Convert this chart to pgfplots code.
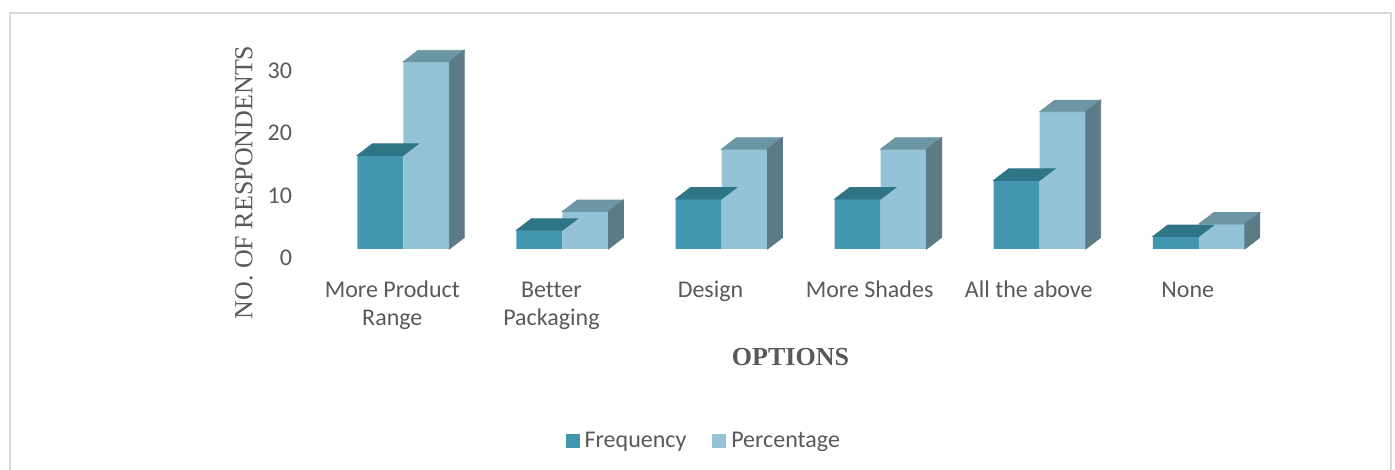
\documentclass[border=0pt]{standalone}
\usepackage{pgfplots}
\pgfplotsset{compat=1.18}
\usepackage{fontspec}
\setmainfont{Carlito}[Ligatures=CommonOff]
\newfontfamily\serifTNR{Liberation Serif}
\definecolor{freqF}{HTML}{4396B0}
\definecolor{freqT}{HTML}{307586}
\definecolor{pctF}{HTML}{93C3D5}
\definecolor{pctT}{HTML}{6D96A4}
\definecolor{pctS}{HTML}{5C7B85}
\definecolor{txt}{HTML}{595959}
\definecolor{frameC}{HTML}{D9D9D9}
\begin{document}
\begin{tikzpicture}
\path[use as bounding box] (0pt,0pt) rectangle (697.5pt,235pt);
\draw[frameC, line width=1pt] (4.75pt,-5pt) -- (4.75pt,228.5pt) -- (695.5pt,228.5pt) -- (695.5pt,-5pt);
\begin{axis}[
  at={(149.5pt,110.5pt)}, anchor=south west,
  x=79.55pt, y=3.12pt,
  xmin=-0.6556, xmax=5.6, ymin=0, ymax=35,
  clip=false,
  axis line style={draw=none},
  major tick length=0pt,
  xtick={0,1,2,3,4,5},
  xticklabels={{\strut More Product\\Range},{\strut Better\\Packaging},{\strut Design},{\strut More Shades},{\strut All the above},{\strut None}},
  ytick={0,10,20,30},
  /pgf/number format/assume math mode=true,
  tick label style={font=\fontsize{12}{14.2}\selectfont, text=txt},
  xticklabel style={align=center, anchor=north, yshift=-10.8pt, xshift=-5.5pt},
  yticklabel style={yshift=-4.4pt},
  ylabel={NO. OF RESPONDENTS},
  xlabel={OPTIONS},
  every axis y label/.style={at={(axis description cs:-0.0553,0.3045)}, rotate=90, anchor=center, font=\serifTNR\fontsize{13}{15}\selectfont, text=txt},
  every axis x label/.style={at={(axis description cs:0.4938,-0.4945)}, anchor=center, font=\serifTNR\bfseries\fontsize{13}{15}\selectfont, text=txt},
  legend style={at={(axis description cs:0.4078,-0.879)}, anchor=center, draw=none, fill=none,
    legend columns=2, font=\fontsize{12}{14.2}\selectfont, text=txt,
    /tikz/every even column/.append style={column sep=11pt}},
]
\addplot[ybar, bar width=23pt, bar shift=-11.5pt, fill=freqF, draw=none,
  legend image code/.code={\fill[freqF] (-1.5pt,-3.425pt) rectangle (5.35pt,3.425pt);\path (5.9pt,0pt);}]
  coordinates {(0,15) (1,3) (2,8) (3,8) (4,11) (5,2)};
\addlegendentry{Frequency}
\addplot[forget plot, scatter, only marks, mark=*, mark size=0pt, mark options={draw=none,fill=none},
  scatter/@pre marker code/.code={\fill[freqT] (-23pt,0pt) -- (0pt,0pt) -- (7.5pt,5.75pt) -- (-15.5pt,5.75pt) -- cycle;},
  scatter/@post marker code/.code={}]
  coordinates {(0,15) (1,3) (2,8) (3,8) (4,11) (5,2)};
\addplot[ybar, bar width=23pt, bar shift=11.5pt, fill=pctF, draw=none,
  legend image code/.code={\fill[pctF] (-1.5pt,-3.425pt) rectangle (5.35pt,3.425pt);\path (5.9pt,0pt);}]
  coordinates {(0,30) (1,6) (2,16) (3,16) (4,22) (5,4)};
\addlegendentry{Percentage}
\addplot[forget plot, scatter, only marks, mark=*, mark size=0pt, mark options={draw=none,fill=none},
  visualization depends on={rawy \as \rawy},
  scatter/@pre marker code/.code={%
    \pgfmathsetmacro\hh{\rawy*3.12}%
    \fill[pctT] (0pt,0pt) -- (23pt,0pt) -- (30.5pt,5.75pt) -- (7.5pt,5.75pt) -- cycle;
    \fill[pctS] (23pt,0pt) -- (30.5pt,5.75pt) -- ({30.5pt},{5.75pt-\hh pt}) -- ({23pt},{-\hh pt}) -- cycle;},
  scatter/@post marker code/.code={}]
  coordinates {(0,30) (1,6) (2,16) (3,16) (4,22) (5,4)};
\end{axis}
\end{tikzpicture}
\end{document}
